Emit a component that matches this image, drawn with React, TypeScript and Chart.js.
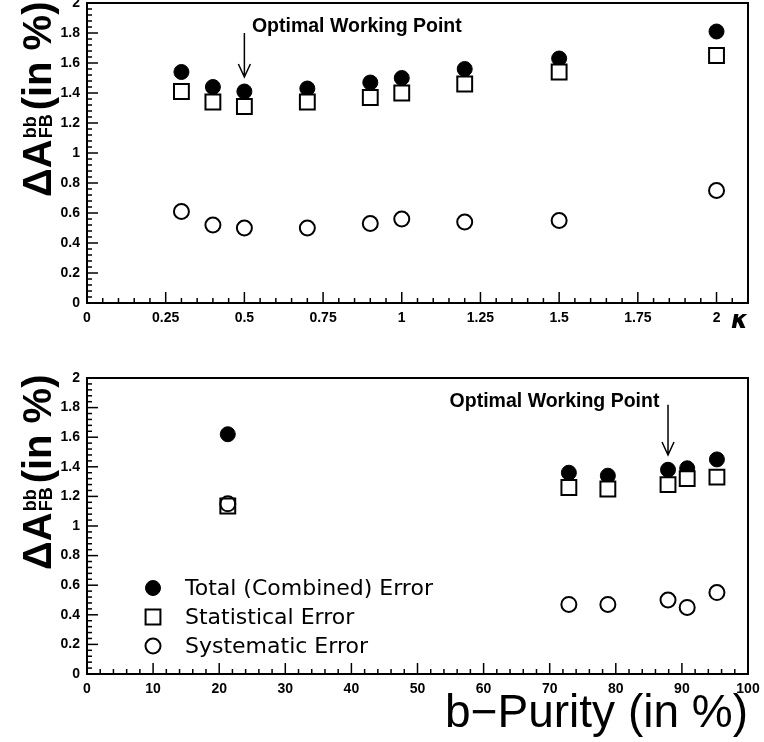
import React, { useEffect, useRef } from "react";
import { Chart, registerables } from "chart.js";
Chart.register(...registerables);

// ---------- data ----------
const kappaValues = [0.3, 0.4, 0.5, 0.7, 0.9, 1.0, 1.2, 1.5, 2.0];
const kappaTotal = [1.54, 1.44, 1.41, 1.43, 1.47, 1.5, 1.56, 1.63, 1.81];
const kappaStat = [1.41, 1.34, 1.31, 1.34, 1.37, 1.4, 1.46, 1.54, 1.65];
const kappaSyst = [0.61, 0.52, 0.5, 0.5, 0.53, 0.56, 0.54, 0.55, 0.75];

const purityValues = [21.3, 72.9, 78.8, 87.9, 90.8, 95.3];
const purityTotal = [1.62, 1.36, 1.34, 1.38, 1.39, 1.45];
const purityStat = [1.135, 1.26, 1.25, 1.28, 1.32, 1.33];
const puritySyst = [1.15, 0.47, 0.47, 0.5, 0.45, 0.55];

const seriesLabels = ["Total (Combined) Error", "Statistical Error", "Systematic Error"];
const annotationText = "Optimal Working Point";
const kappaOptimal = 0.5;
const purityOptimal = 87.9;

const W = 764;
const TOP_OFF = -11;
const TOP_H = 361;
const BOT_H = 392;
const FONT = '"Liberation Sans", Arial, Helvetica, sans-serif';
const LEGEND_FONT = '"DejaVu Sans", "Liberation Sans", sans-serif';

const fmt = (v: number) => String(Math.round(v * 100) / 100);

const styles = [
  { pointStyle: "circle", pointRadius: 7.5, backgroundColor: "#000", borderColor: "#000", borderWidth: 1, order: 3 },
  { pointStyle: "rect", pointRadius: 10.5, backgroundColor: "#fff", borderColor: "#000", borderWidth: 2, order: 2 },
  { pointStyle: "circle", pointRadius: 7.5, backgroundColor: "rgba(255,255,255,0)", borderColor: "#000", borderWidth: 2, order: 1 },
];

function makeDatasets(xs: number[], series: number[][]) {
  return series.map((ys, i) => ({
    label: seriesLabels[i],
    data: xs.map((x, j) => ({ x, y: ys[j] })),
    showLine: false,
    pointHoverRadius: styles[i].pointRadius,
    clip: false,
    ...styles[i],
  }));
}

// frame + inward ticks + y title
const framePlugin = {
  id: "frame",
  afterDraw(chart: any, _a: any, o: any) {
    const { ctx, chartArea: a, scales } = chart;
    const x = scales.x, y = scales.y;
    ctx.save();
    ctx.strokeStyle = "#000";
    ctx.lineWidth = 1.5;
    const nx = Math.round((o.xMax - o.xMin) / o.xMinor);
    for (let i = 0; i <= nx; i++) {
      const v = o.xMin + i * o.xMinor;
      const major = i % o.xEvery === 0;
      const px = x.getPixelForValue(v);
      ctx.beginPath();
      ctx.moveTo(px, a.bottom);
      ctx.lineTo(px, a.bottom - (major ? 11 : 5));
      ctx.stroke();
    }
    const ny = Math.round((o.yMax - o.yMin) / o.yMinor);
    for (let i = 0; i <= ny; i++) {
      const v = o.yMin + i * o.yMinor;
      const major = i % o.yEvery === 0;
      const py = y.getPixelForValue(v);
      ctx.beginPath();
      ctx.moveTo(a.left, py);
      ctx.lineTo(a.left + (major ? 11 : 5), py);
      ctx.stroke();
    }
    ctx.lineWidth = 2;
    ctx.strokeRect(a.left, a.top, a.right - a.left, a.bottom - a.top);

    // y title: ΔA_FB^bb (in %)
    ctx.translate(o.titleX, o.titleY);
    ctx.rotate(-Math.PI / 2);
    ctx.fillStyle = "#000";
    ctx.textBaseline = "alphabetic";
    ctx.textAlign = "left";
    let p = 0;
    ctx.font = `bold 40px ${FONT}`;
    ctx.fillText("ΔA", p, 0);
    p += ctx.measureText("ΔA").width + 1;
    ctx.font = `bold 18px ${FONT}`;
    ctx.fillText("bb", p, -15);
    const wbb = ctx.measureText("bb").width;
    ctx.fillText("FB", p, 1);
    const wfb = ctx.measureText("FB").width;
    p += Math.max(wbb, wfb) + 4;
    ctx.font = `bold 40px ${FONT}`;
    ctx.fillText("(in %)", p, 0);
    ctx.restore();
  },
};

const annotPlugin = {
  id: "annot",
  afterDraw(chart: any, _a: any, o: any) {
    const { ctx, scales } = chart;
    const x = scales.x, y = scales.y;
    ctx.save();
    ctx.fillStyle = "#000";
    ctx.strokeStyle = "#000";
    ctx.font = `bold 19.5px ${FONT}`;
    ctx.textBaseline = "middle";
    ctx.textAlign = o.align;
    ctx.fillText(annotationText, x.getPixelForValue(o.textX), y.getPixelForValue(o.textY));
    const ax = x.getPixelForValue(o.arrowX);
    const y0 = y.getPixelForValue(o.arrowFrom);
    const y1 = y.getPixelForValue(o.arrowTo);
    ctx.lineWidth = 1.5;
    ctx.beginPath();
    ctx.moveTo(ax, y0);
    ctx.lineTo(ax, y1);
    ctx.moveTo(ax - 6, y1 - 13);
    ctx.lineTo(ax, y1);
    ctx.lineTo(ax + 6, y1 - 13);
    ctx.stroke();
    ctx.restore();
  },
};

const legendPlugin = {
  id: "customLegend",
  afterDraw(chart: any, _a: any, o: any) {
    if (!o.show) return;
    const { ctx } = chart;
    ctx.save();
    ctx.font = `22px ${LEGEND_FONT}`;
    ctx.textBaseline = "middle";
    ctx.textAlign = "left";
    chart.data.datasets.forEach((ds: any, i: number) => {
      const cy = o.y0 + i * o.dy;
      const cx = o.x0;
      ctx.fillStyle = ds.backgroundColor;
      ctx.strokeStyle = ds.borderColor;
      ctx.lineWidth = ds.borderWidth;
      ctx.beginPath();
      if (ds.pointStyle === "rect") {
        const s = ds.pointRadius * Math.SQRT1_2;
        ctx.rect(cx - s, cy - s, 2 * s, 2 * s);
      } else {
        ctx.arc(cx, cy, ds.pointRadius, 0, Math.PI * 2);
      }
      ctx.fill();
      ctx.stroke();
      ctx.fillStyle = "#000";
      ctx.fillText(ds.label, o.textX, cy + 1);
    });
    ctx.restore();
  },
};

function makeConfig(opts: any): any {
  const { datasets, H, top, bottom, xMin, xMax, xStep, xTitle, xTitleFont, xTitlePad, frame, annot, legend } = opts;
  return {
    type: "scatter",
    data: { datasets },
    plugins: [framePlugin, annotPlugin, legendPlugin],
    options: {
      responsive: false,
      animation: false,
      devicePixelRatio: 1,
      layout: { padding: { top, right: W - 748, left: 0, bottom: 0 } },
      plugins: {
        legend: { display: false },
        tooltip: { enabled: false },
        frame,
        annot,
        customLegend: legend,
      },
      scales: {
        x: {
          type: "linear",
          min: xMin,
          max: xMax,
          grid: { display: false, drawTicks: false },
          border: { display: false },
          ticks: {
            stepSize: xStep,
            includeBounds: false,
            autoSkip: false,
            maxRotation: 0,
            padding: 7,
            color: "#000",
            font: { family: FONT, weight: "bold", size: 14 },
            callback: (v: number) => fmt(v),
          },
          title: {
            display: true,
            text: xTitle,
            align: "end",
            color: "#000",
            font: xTitleFont,
            padding: { top: 0, bottom: xTitlePad },
          },
          afterFit: (s: any) => {
            s.height = H - bottom;
            s.paddingLeft = 0;
            s.paddingRight = 0;
          },
        },
        y: {
          type: "linear",
          min: 0,
          max: 2,
          grid: { display: false, drawTicks: false },
          border: { display: false },
          ticks: {
            stepSize: 0.2,
            padding: 7,
            color: "#000",
            font: { family: FONT, weight: "bold", size: 14 },
            callback: (v: number) => fmt(v),
          },
          afterFit: (s: any) => {
            s.width = 87;
            s.paddingTop = 0;
            s.paddingBottom = 0;
          },
        },
      },
    },
  };
}

function Panel(props: { H: number; top: number; config: any }) {
  const ref = useRef<HTMLCanvasElement>(null);
  useEffect(() => {
    if (!ref.current) return;
    const c = new Chart(ref.current, props.config);
    return () => c.destroy();
  }, []);
  return (
    <canvas
      ref={ref}
      width={W}
      height={props.H}
      style={{ position: "absolute", left: 0, top: props.top, width: W, height: props.H }}
    />
  );
}

export default function App() {
  const topConfig = makeConfig({
    datasets: makeDatasets(kappaValues, [kappaTotal, kappaStat, kappaSyst]),
    H: TOP_H,
    top: 14,
    bottom: 314,
    xMin: 0,
    xMax: 2.1,
    xStep: 0.25,
    xTitle: "κ",
    xTitleFont: { family: '"DejaVu Sans", sans-serif', style: "italic", weight: "bold", size: 24 },
    xTitlePad: 14,
    frame: { xMin: 0, xMax: 2.1, xMinor: 0.05, xEvery: 5, yMin: 0, yMax: 2, yMinor: 0.04, yEvery: 5, titleX: 51, titleY: 208 },
    annot: { align: "left", textX: 0.524, textY: 1.84, arrowX: kappaOptimal, arrowFrom: 1.8, arrowTo: 1.507 },
    legend: { show: false },
  });
  const botConfig = makeConfig({
    datasets: makeDatasets(purityValues, [purityTotal, purityStat, puritySyst]),
    H: BOT_H,
    top: 28,
    bottom: 324,
    xMin: 0,
    xMax: 100,
    xStep: 10,
    xTitle: "b−Purity (in %)",
    xTitleFont: { family: FONT, weight: "normal", size: 46 },
    xTitlePad: 0,
    frame: { xMin: 0, xMax: 100, xMinor: 2, xEvery: 5, yMin: 0, yMax: 2, yMinor: 0.04, yEvery: 5, titleX: 51, titleY: 220 },
    annot: { align: "right", textX: 86.6, textY: 1.84, arrowX: purityOptimal, arrowFrom: 1.82, arrowTo: 1.48 },
    legend: { show: true, x0: 153, y0: 238, dy: 29, textX: 185 },
  });
  return (
    <div style={{ position: "fixed", left: 0, top: 0, width: W, height: 742, background: "#fff", overflow: "hidden" }}>
      <Panel H={TOP_H} top={TOP_OFF} config={topConfig} />
      <Panel H={BOT_H} top={350} config={botConfig} />
    </div>
  );
}
